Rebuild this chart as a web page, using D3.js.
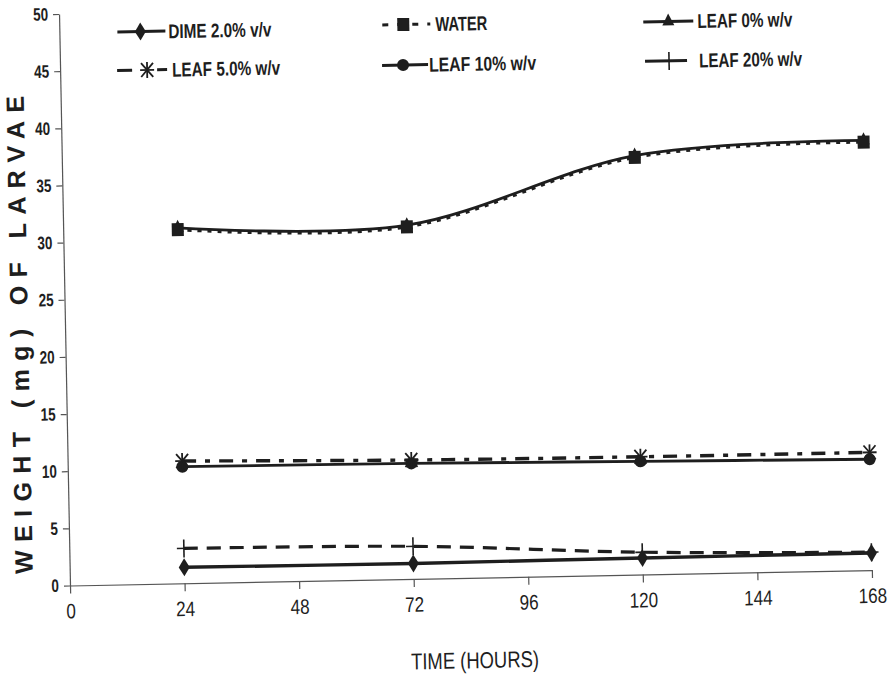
<!DOCTYPE html>
<html>
<head>
<meta charset="utf-8">
<script src="https://cdn.jsdelivr.net/npm/d3@7"></script>
<style>
  body { margin: 0; background: #fff; }
  svg { display: block; }
  text { fill: #1e1e1e; }
</style>
</head>
<body>
<div id="vis"></div>
<script>
var width = 894, height = 682

// data
var hours = [24, 72, 120, 168]
var dime   = [1.4, 1.35, 1.45, 1.5]
var water  = [30.95, 30.8, 36.5, 37.45]
var leaf0  = [31.1, 30.95, 36.65, 37.6]
var leaf5  = [10.7, 10.4, 10.3, 10.3]
var leaf10 = [10.2, 10.1, 9.9, 9.7]
var leaf20 = [3.05, 2.85, 1.95, 1.57]

var xTicks = [0, 24, 48, 72, 96, 120, 144, 168]
var yTicks = [0, 5, 10, 15, 20, 25, 30, 35, 40, 45, 50]
var seriesNames = ['DIME 2.0% v/v', 'WATER', 'LEAF 0% w/v', 'LEAF 5.0% w/v', 'LEAF 10% w/v', 'LEAF 20% w/v']

var ink = '#1e1e1e'
var narrow = '"Liberation Sans Narrow", "Arial Narrow", "Liberation Sans", Arial, sans-serif'

var svg = d3.select('#vis').append('svg')
    .attr('width', width)
    .attr('height', height)

// the scan is slightly tilted, so the whole chart is turned a little
var g = svg.append('g')
    .attr('transform', 'rotate(-1.1, 70, 585.5)')

var x = d3.scaleLinear().domain([0, 168]).range([70, 872])
var y = d3.scaleLinear().domain([0, 50]).range([585.5, 13.9])

// axes
var xAxis = g.append('g')
    .attr('transform', 'translate(0,' + y(0) + ')')
    .call(d3.axisBottom(x).tickValues(xTicks).tickSize(8).tickPadding(6).tickSizeOuter(0))
xAxis.select('.domain').attr('stroke', '#555').attr('stroke-width', 1.2)
xAxis.selectAll('line').attr('stroke', '#555').attr('stroke-width', 1.2)
xAxis.selectAll('text')
    .attr('font-family', narrow)
    .attr('font-size', 21)
    .attr('fill', ink)
    .attr('dy', '0.9em')
    .attr('textLength', function(d) { return String(d).length * 9.5 })
    .attr('lengthAdjust', 'spacingAndGlyphs')

var yAxis = g.append('g')
    .attr('transform', 'translate(' + x(0) + ',0)')
    .call(d3.axisLeft(y).tickValues(yTicks).tickSize(6).tickPadding(5).tickSizeOuter(0))
yAxis.select('.domain').attr('stroke', '#555').attr('stroke-width', 1.2)
yAxis.selectAll('line').attr('stroke', '#555').attr('stroke-width', 1.2)
yAxis.selectAll('text')
    .attr('font-family', narrow)
    .attr('font-weight', 'bold')
    .attr('font-size', 18)
    .attr('fill', ink)
    .attr('textLength', function(d) { return String(d).length * 7.5 })
    .attr('lengthAdjust', 'spacingAndGlyphs')

g.append('text')
    .attr('x', 473.5).attr('y', 676)
    .attr('text-anchor', 'middle')
    .attr('font-family', narrow)
    .attr('font-size', 23)
    .attr('textLength', 128)
    .attr('lengthAdjust', 'spacingAndGlyphs')
    .text('TIME (HOURS)')

g.append('text')
    .attr('transform', 'translate(33,334) rotate(-90)')
    .attr('text-anchor', 'middle')
    .attr('font-family', '"Liberation Sans", Arial, sans-serif')
    .attr('font-weight', 'bold')
    .attr('font-size', 25)
    .attr('textLength', 478)
    .attr('lengthAdjust', 'spacing')
    .text('WEIGHT (mg) OF LARVAE')

// marker shapes
function marker(sel, kind, cx, cy) {
  if (kind == 'diamond') {
    sel.append('path')
      .attr('d', 'M' + cx + ',' + (cy - 9) + 'L' + (cx + 5.5) + ',' + cy + 'L' + cx + ',' + (cy + 9) + 'L' + (cx - 5.5) + ',' + cy + 'Z')
      .attr('fill', ink)
  } else if (kind == 'square') {
    sel.append('rect')
      .attr('x', cx - 6).attr('y', cy - 6.5).attr('width', 12).attr('height', 13)
      .attr('fill', ink)
  } else if (kind == 'triangle') {
    sel.append('path')
      .attr('d', 'M' + cx + ',' + (cy - 8) + 'L' + (cx + 6) + ',' + (cy + 4) + 'L' + (cx - 6) + ',' + (cy + 4) + 'Z')
      .attr('fill', ink)
  } else if (kind == 'circle') {
    sel.append('circle')
      .attr('cx', cx).attr('cy', cy).attr('r', 6)
      .attr('fill', ink)
  } else if (kind == 'star') {
    var s = sel.append('g').attr('stroke', ink).attr('stroke-width', 1.8)
    s.append('line').attr('x1', cx).attr('y1', cy - 8).attr('x2', cx).attr('y2', cy + 8)
    s.append('line').attr('x1', cx - 6).attr('y1', cy - 7).attr('x2', cx + 6).attr('y2', cy + 7)
    s.append('line').attr('x1', cx + 6).attr('y1', cy - 7).attr('x2', cx - 6).attr('y2', cy + 7)
    s.append('line').attr('x1', cx - 7).attr('y1', cy).attr('x2', cx + 7).attr('y2', cy)
  } else if (kind == 'plus') {
    var p = sel.append('g').attr('stroke', ink).attr('stroke-width', 1.6)
    p.append('line').attr('x1', cx).attr('y1', cy - 9).attr('x2', cx).attr('y2', cy + 9)
    p.append('line').attr('x1', cx - 7).attr('y1', cy).attr('x2', cx + 7).attr('y2', cy)
  }
}

var series = [
  { name: seriesNames[2], values: leaf0,  dash: null,          width: 2.8, kind: 'triangle' },
  { name: seriesNames[1], values: water,  dash: '4,6',         width: 3.2, kind: 'square' },
  { name: seriesNames[4], values: leaf10, dash: null,          width: 2.8, kind: 'circle' },
  { name: seriesNames[3], values: leaf5,  dash: '14,9,5,9',    width: 3.4, kind: 'star' },
  { name: seriesNames[5], values: leaf20, dash: '14,9',        width: 3.2, kind: 'plus' },
  { name: seriesNames[0], values: dime,   dash: null,          width: 3.4, kind: 'diamond' }
]

var line = d3.line()
    .x(function(d, i) { return x(hours[i]) })
    .y(function(d) { return y(d) })
    .curve(d3.curveCatmullRom.alpha(0))

series.forEach(function(s) {
  g.append('path')
    .attr('d', line(s.values))
    .attr('fill', 'none')
    .attr('stroke', ink)
    .attr('stroke-width', s.width)
    .attr('stroke-dasharray', s.dash)
  var m = g.append('g')
  s.values.forEach(function(v, i) {
    marker(m, s.kind, x(hours[i]), y(v))
  })
})

// legend
var legend = [
  { name: seriesNames[0], kind: 'diamond',  x1: 128, x2: 176, mx: 151, tx: 179, ty: 33,   tl: 103, dash: null },
  { name: seriesNames[1], kind: 'square',   x1: 393, x2: 441, mx: 414, tx: 446, ty: 31,   tl: 52,  dash: '6,9' },
  { name: seriesNames[2], kind: 'triangle', x1: 654, x2: 704, mx: 679, tx: 708, ty: 33,   tl: 95,  dash: null },
  { name: seriesNames[3], kind: 'star',     x1: 127, x2: 177, mx: 157, tx: 182, ty: 71.5, tl: 108, dash: '15,25,10' },
  { name: seriesNames[4], kind: 'circle',   x1: 392, x2: 438, mx: 413, tx: 439, ty: 71.5, tl: 107, dash: null },
  { name: seriesNames[5], kind: 'plus',     x1: 655, x2: 697, mx: 679, tx: 709, ty: 72.5, tl: 103, dash: null }
]

var lg = g.append('g')
legend.forEach(function(d) {
  lg.append('line')
    .attr('x1', d.x1).attr('x2', d.x2)
    .attr('y1', d.ty).attr('y2', d.ty)
    .attr('stroke', ink)
    .attr('stroke-width', 3)
    .attr('stroke-dasharray', d.dash)
  marker(lg, d.kind, d.mx, d.ty)
  lg.append('text')
    .attr('x', d.tx).attr('y', d.ty)
    .attr('dy', '0.36em')
    .attr('font-family', narrow)
    .attr('font-weight', 'bold')
    .attr('font-size', 20)
    .attr('textLength', d.tl)
    .attr('lengthAdjust', 'spacingAndGlyphs')
    .text(d.name)
})
</script>
</body>
</html>
